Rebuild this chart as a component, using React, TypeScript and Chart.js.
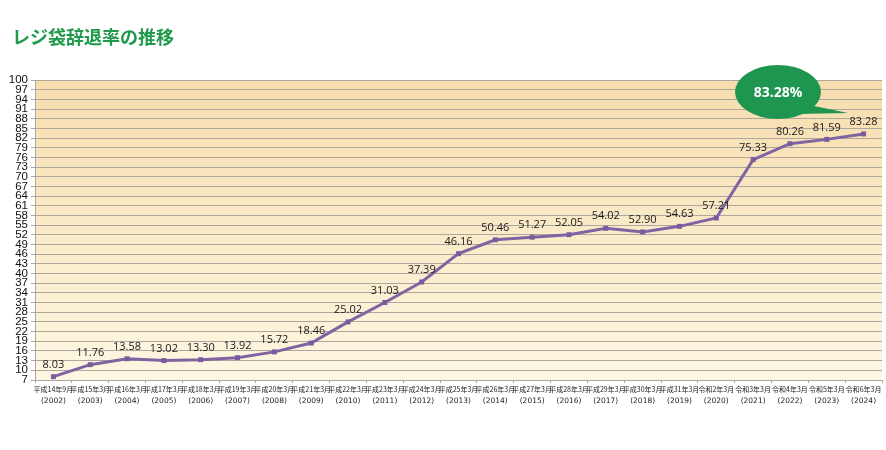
import React, { useEffect, useRef } from "react";
import { Chart, registerables } from "chart.js";

Chart.register(...registerables);

const title = "レジ袋辞退率の推移";
const eraLabels = [
  "平成14年9月", "平成15年3月", "平成16年3月", "平成17年3月", "平成18年3月", "平成19年3月",
  "平成20年3月", "平成21年3月", "平成22年3月", "平成23年3月", "平成24年3月", "平成25年3月",
  "平成26年3月", "平成27年3月", "平成28年3月", "平成29年3月", "平成30年3月", "平成31年3月",
  "令和2年3月", "令和3年3月", "令和4年3月", "令和5年3月", "令和6年3月",
];
const years = [
  "(2002)", "(2003)", "(2004)", "(2005)", "(2006)", "(2007)", "(2008)", "(2009)", "(2010)",
  "(2011)", "(2012)", "(2013)", "(2014)", "(2015)", "(2016)", "(2017)", "(2018)", "(2019)",
  "(2020)", "(2021)", "(2022)", "(2023)", "(2024)",
];
const rates = [
  8.03, 11.76, 13.58, 13.02, 13.3, 13.92, 15.72, 18.46, 25.02, 31.03, 37.39, 46.16,
  50.46, 51.27, 52.05, 54.02, 52.9, 54.63, 57.21, 75.33, 80.26, 81.59, 83.28,
];
const yTicks = [
  7, 10, 13, 16, 19, 22, 25, 28, 31, 34, 37, 40, 43, 46, 49, 52, 55, 58, 61, 64, 67, 70,
  73, 76, 79, 82, 85, 88, 91, 94, 97, 100,
];
const bubbleText = "83.28%";

export default function App() {
  const ref = useRef<HTMLCanvasElement>(null);

  useEffect(() => {
    const canvas = ref.current!;
    const bgPlugin = {
      id: "bg",
      beforeDraw(chart: any) {
        const { ctx, chartArea: a } = chart;
        ctx.save();
        ctx.fillStyle = "#ffffff";
        ctx.fillRect(0, 0, chart.width, chart.height);
        const g = ctx.createLinearGradient(0, a.top, 0, a.bottom);
        g.addColorStop(0, "#F7DDAE");
        g.addColorStop(1, "#FDF7E2");
        ctx.fillStyle = g;
        ctx.fillRect(a.left, a.top, a.right - a.left, a.bottom - a.top);
        ctx.restore();
      },
    };
    const overlayPlugin = {
      id: "overlay",
      afterDatasetsDraw(chart: any) {
        const { ctx, chartArea: a } = chart;
        ctx.save();
        // title
        ctx.fillStyle = "#1F9A4B";
        ctx.font = "bold 18px 'Noto Sans CJK JP'";
        ctx.textBaseline = "middle";
        ctx.textAlign = "left";
        ctx.fillText(title, 12, 37);
        // year labels (second line of x axis)
        const xs = chart.scales.x;
        ctx.fillStyle = "#222";
        ctx.font = "7.5px 'DejaVu Sans'";
        ctx.textAlign = "center";
        years.forEach((y, i) => {
          ctx.fillText(y, xs.getPixelForValue(i), a.bottom + 21);
        });
        // value labels
        const meta = chart.getDatasetMeta(0);
        ctx.fillStyle = "#1a1a1a";
        ctx.font = "11px 'Open Sans'";
        meta.data.forEach((pt: any, i: number) => {
          ctx.fillText(rates[i].toFixed(2), pt.x, pt.y - 12);
        });
        // bubble
        const cx = 778, cy = 92, rx = 43, ry = 27;
        ctx.fillStyle = "#1E9650";
        ctx.beginPath();
        ctx.ellipse(cx, cy, rx, ry, 0, 0, Math.PI * 2);
        ctx.fill();
        ctx.beginPath();
        ctx.moveTo(cx + 20, cy + 22);
        ctx.lineTo(848, 113);
        ctx.lineTo(cx + 36, cy + 14);
        ctx.closePath();
        ctx.fill();
        ctx.fillStyle = "#ffffff";
        ctx.font = "bold 14px 'Open Sans'";
        ctx.fillText(bubbleText, cx, cy + 1);
        ctx.restore();
      },
    };

    const chart = new Chart(canvas, {
      type: "line",
      data: {
        labels: eraLabels,
        datasets: [
          {
            data: rates,
            borderColor: "#8064A2",
            backgroundColor: "#7A5C9E",
            borderWidth: 3,
            pointStyle: "rect",
            pointRadius: 3.5,
            pointBorderWidth: 0,
            tension: 0,
          },
        ],
      },
      options: {
        responsive: false,
        animation: false,
        layout: { padding: { top: 80, right: 1, bottom: 30, left: 0 } },
        plugins: { legend: { display: false }, tooltip: { enabled: false } },
        scales: {
          y: {
            min: 7,
            max: 100,
            afterBuildTicks(scale: any) {
              scale.ticks = yTicks.map((v) => ({ value: v }));
            },
            afterFit(scale: any) {
              scale.width = 35;
            },
            grid: {
              color: "#ADA79E",
              lineWidth: 1,
              tickLength: 4,
              drawTicks: true,
            },
            border: { color: "#ADA79E" },
            ticks: {
              color: "#111",
              font: { size: 11.5, family: "'Liberation Sans'" },
              padding: 3,
              autoSkip: false,
            },
          },
          x: {
            offset: true,
            afterFit(scale: any) {
              scale.height = 40;
            },
            grid: {
              drawOnChartArea: false,
              tickLength: 3,
              color: "#ADA79E",
              offset: true,
            },
            border: { color: "#ADA79E" },
            ticks: {
              color: "#222",
              font: { size: 7, family: "'Noto Sans CJK JP'", lineHeight: 1.4 },
              padding: 1,
              autoSkip: false,
              maxRotation: 0,
            },
          },
        },
      },
      plugins: [bgPlugin, overlayPlugin],
    });
    return () => chart.destroy();
  }, []);

  return (
    <div style={{ position: "fixed", left: 0, top: 0, width: 886, height: 450, background: "#fff" }}>
      <canvas ref={ref} width={886} height={450} style={{ display: "block" }} />
    </div>
  );
}
